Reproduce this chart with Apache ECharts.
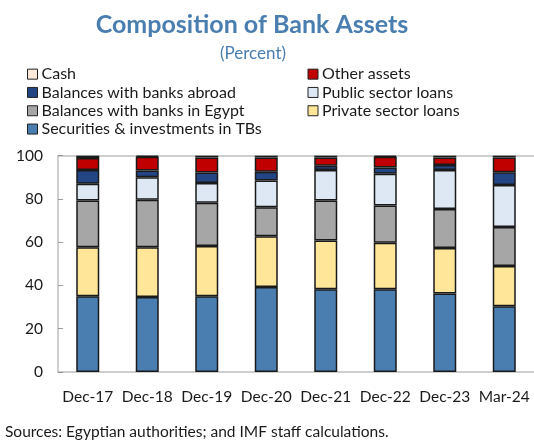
<!DOCTYPE html>
<html>
<head>
<meta charset="utf-8">
<script src="https://cdn.jsdelivr.net/npm/echarts@6/dist/echarts.min.js"></script>
<style>
  html, body { margin: 0; padding: 0; background: #fff; }
  #chart { width: 534px; height: 442px; }
</style>
</head>
<body>
<div id="chart"></div>
<script>
// Period labels along the x axis
const categories = ['Dec-17', 'Dec-18', 'Dec-19', 'Dec-20', 'Dec-21', 'Dec-22', 'Dec-23', 'Mar-24'];

// Shares of total bank assets, percent (stacked bottom to top)
const securities   = [35.0, 34.7, 35.0, 39.3, 38.2, 38.2, 36.3, 30.4];
const privateLoans = [22.7, 23.0, 23.2, 23.5, 22.6, 21.6, 21.0, 18.6];
const banksEgypt   = [21.6, 21.9, 20.0, 13.4, 18.5, 17.2, 18.1, 18.0];
const publicLoans  = [7.7, 10.4, 9.2, 12.3, 14.1, 14.6, 18.0, 19.5];
const banksAbroad  = [6.4, 3.1, 4.8, 4.1, 2.0, 3.0, 2.3, 5.8];
const otherAssets  = [5.5, 6.4, 7.0, 6.6, 3.8, 4.9, 3.5, 6.9];
const cash         = [1.1, 0.5, 0.8, 0.8, 0.8, 0.5, 0.8, 0.8];

// Y axis tick values
const yTicks = [0, 20, 40, 60, 80, 100];

const FONT = 'Lato';
const TEXT = '#1a1a1a';
const AXIS = '#bfbfbf';

const seriesDefs = [
  { name: 'Securities & investments in TBs', data: securities,   color: '#4a7eb0' },
  { name: 'Private sector loans',            data: privateLoans, color: '#ffe699' },
  { name: 'Balances with banks in Egypt',    data: banksEgypt,   color: '#a6a6a6' },
  { name: 'Public sector loans',             data: publicLoans,  color: '#dde8f4' },
  { name: 'Balances with banks abroad',      data: banksAbroad,  color: '#234584' },
  { name: 'Other assets',                    data: otherAssets,  color: '#c00000' },
  { name: 'Cash',                            data: cash,         color: '#fde9d9' }
];

const legendCommon = {
  orient: 'vertical',
  padding: 0,
  itemWidth: 10,
  itemHeight: 10,
  itemGap: 0,
  icon: 'rect',
  selectedMode: false,
  itemStyle: { borderColor: '#222', borderWidth: 1 },
  textStyle: { fontFamily: FONT, fontSize: 16, color: TEXT, lineHeight: 18.3, padding: [0, 0, 0, -1] }
};

const chart = echarts.init(document.getElementById('chart'), null, { renderer: 'canvas' });

chart.setOption({
  animation: false,
  backgroundColor: '#fff',
  title: [
    {
      text: 'Composition of Bank Assets',
      left: 247, top: 7, textAlign: 'center',
      textStyle: { fontFamily: FONT, fontSize: 25, fontWeight: 'bold', color: '#4a7eb0' }
    },
    {
      text: '(Percent)',
      left: 248, top: 40, textAlign: 'center',
      textStyle: { fontFamily: FONT, fontSize: 17, fontWeight: 'normal', color: '#4a7eb0' }
    }
  ],
  legend: [
    Object.assign({}, legendCommon, {
      left: 27, top: 65,
      data: ['Cash', 'Balances with banks abroad', 'Balances with banks in Egypt', 'Securities & investments in TBs']
    }),
    Object.assign({}, legendCommon, {
      left: 307.5, top: 65,
      data: ['Other assets', 'Public sector loans', 'Private sector loans']
    })
  ],
  grid: { left: 58, right: 0, top: 155.7, bottom: 70, containLabel: false },
  xAxis: [
    {
      type: 'category',
      data: categories,
      axisLine: { show: true, lineStyle: { color: AXIS, width: 1.5 } },
      axisTick: { show: false },
      axisLabel: { fontFamily: FONT, fontSize: 15.5, color: TEXT, margin: 17, interval: 0 }
    },
    {
      // frame line along the top of the plot
      type: 'category',
      position: 'top',
      data: categories,
      axisLine: { show: true, lineStyle: { color: AXIS, width: 1.5 } },
      axisTick: { show: false },
      axisLabel: { show: false }
    }
  ],
  yAxis: {
    type: 'value',
    min: yTicks[0],
    max: yTicks[yTicks.length - 1],
    interval: 20,
    axisLine: { show: true, lineStyle: { color: AXIS, width: 1.5 } },
    axisTick: { show: true, inside: true, length: 5, lineStyle: { color: '#999', width: 1 } },
    splitLine: { show: false },
    axisLabel: { fontFamily: FONT, fontSize: 15.5, color: TEXT, margin: 15 }
  },
  series: seriesDefs.map(s => ({
    name: s.name,
    type: 'bar',
    stack: 'assets',
    barWidth: 23,
    data: s.data,
    itemStyle: { color: s.color, borderColor: '#1a1a1a', borderWidth: 1.5 }
  })),
  graphic: [
    {
      type: 'text',
      left: 5, top: 424,
      style: {
        text: 'Sources: Egyptian authorities; and IMF staff calculations.',
        fontFamily: FONT, fontSize: 15.5, fill: TEXT
      }
    }
  ]
});
</script>
</body>
</html>
